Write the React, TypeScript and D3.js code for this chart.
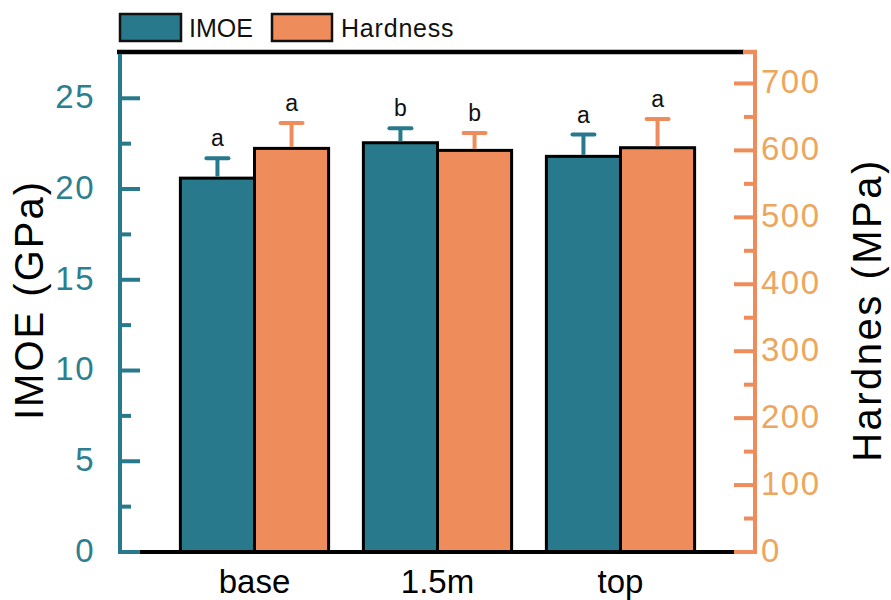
import React from "react";
import * as d3 from "d3";

// Sampling positions along the stem
const categories = ["base", "1.5m", "top"];

// Indentation modulus of elasticity (GPa) and its standard deviation
const imoeMean = [20.6, 22.55, 21.8];
const imoeErr = [1.1, 0.8, 1.2];
const imoeLetters = ["a", "b", "a"];

// Hardness (MPa) and its standard deviation
const hardMean = [603, 600, 604];
const hardErr = [38, 26, 43];
const hardLetters = ["a", "b", "a"];

const leftTicks = [0, 5, 10, 15, 20, 25];
const rightTicks = [0, 100, 200, 300, 400, 500, 600, 700];

const W = 891;
const H = 600;
const TEAL = "#27798B";
const ORANGE = "#EE8C5B";
const LEFT_LABEL = "#2B7F8F";
const RIGHT_LABEL = "#EDA65D";
const FONT = "'Liberation Sans', Arial, Helvetica, sans-serif";

export default function App() {
  const x0 = 120;
  const x1 = 755;
  const yTop = 52;
  const yBot = 552;

  const x = d3.scaleBand<string>().domain(categories).range([x0, x1]).paddingInner(0.19).paddingOuter(0.33);
  const sub = d3.scaleBand<string>().domain(["imoe", "hard"]).range([0, x.bandwidth()]);
  const yL = d3.scaleLinear().domain([0, 27.55]).range([yBot, yTop]);
  const yR = d3.scaleLinear().domain([0, 747]).range([yBot, yTop]);

  const leftMinor = d3.range(2.5, 27.5, 5);
  const rightMinor = d3.range(50, 747, 100);

  const series = [
    { key: "imoe", mean: imoeMean, err: imoeErr, letters: imoeLetters, y: yL, color: TEAL },
    { key: "hard", mean: hardMean, err: hardErr, letters: hardLetters, y: yR, color: ORANGE },
  ];

  return (
    <svg width={W} height={H} style={{ position: "absolute", left: 0, top: 0 }} fontFamily={FONT}>
      <rect width={W} height={H} fill="#fff" />

      {/* bars */}
      {series.map((s) =>
        categories.map((c, i) => {
          const bx = (x(c) as number) + (sub(s.key) as number);
          const by = s.y(s.mean[i]);
          return (
            <rect
              key={s.key + c}
              x={bx}
              y={by}
              width={sub.bandwidth()}
              height={yBot - by}
              fill={s.color}
              stroke="#000"
              strokeWidth={3}
            />
          );
        })
      )}

      {/* upper error bars and significance letters */}
      {series.map((s) =>
        categories.map((c, i) => {
          const cx = (x(c) as number) + (sub(s.key) as number) + sub.bandwidth() / 2;
          const by = s.y(s.mean[i]);
          const ey = s.y(s.mean[i] + s.err[i]);
          return (
            <g key={"e" + s.key + c}>
              <line x1={cx} x2={cx} y1={by - 1.5} y2={ey} stroke={s.color} strokeWidth={4} />
              <line x1={cx - 11} x2={cx + 11} y1={ey} y2={ey} stroke={s.color} strokeWidth={4} strokeLinecap="round" />
              <text x={cx} y={ey - 12} textAnchor="middle" fontSize={23} fill="#111">
                {s.letters[i]}
              </text>
            </g>
          );
        })
      )}

      {/* frame: top and bottom lines */}
      <line x1={x0 - 3} x2={x1 - 11} y1={yTop} y2={yTop} stroke="#000" strokeWidth={4.5} />
      <line x1={x1 - 12} x2={x1 + 2} y1={yTop} y2={yTop} stroke={ORANGE} strokeWidth={4.5} />
      <line x1={x0} x2={x1} y1={yBot} y2={yBot} stroke="#000" strokeWidth={4} />

      {/* left axis */}
      <line x1={x0} x2={x0} y1={yTop + 2} y2={yBot + 2} stroke={TEAL} strokeWidth={4} />
      {leftTicks.map((t) => (
        <g key={"lt" + t}>
          <line x1={x0} x2={x0 + 20} y1={yL(t)} y2={yL(t)} stroke={TEAL} strokeWidth={4} />
          <text x={95} y={yL(t)} dy="0.3em" textAnchor="end" fontSize={33} letterSpacing={1.5} fill={LEFT_LABEL}>
            {t}
          </text>
        </g>
      ))}
      {leftMinor.map((t) => (
        <line key={"lm" + t} x1={x0} x2={x0 + 11} y1={yL(t)} y2={yL(t)} stroke={TEAL} strokeWidth={4} />
      ))}

      {/* right axis */}
      <line x1={x1} x2={x1} y1={yTop} y2={yBot + 2} stroke={ORANGE} strokeWidth={4} />
      {rightTicks.map((t) => (
        <g key={"rt" + t}>
          <line x1={x1 - 21} x2={x1} y1={yR(t)} y2={yR(t)} stroke={ORANGE} strokeWidth={4} />
          <text x={761} y={yR(t)} dy="0.3em" textAnchor="start" fontSize={33} letterSpacing={1.5} fill={RIGHT_LABEL}>
            {t}
          </text>
        </g>
      ))}
      {rightMinor.map((t) => (
        <line key={"rm" + t} x1={x1 - 11} x2={x1} y1={yR(t)} y2={yR(t)} stroke={ORANGE} strokeWidth={4} />
      ))}

      {/* category labels */}
      {categories.map((c) => (
        <text key={"x" + c} x={(x(c) as number) + x.bandwidth() / 2} y={593} textAnchor="middle" fontSize={33} fill="#000">
          {c}
        </text>
      ))}

      {/* axis titles */}
      <text transform={`translate(43,300) rotate(-90)`} textAnchor="middle" fontSize={40} letterSpacing={2} fill="#000">
        IMOE (GPa)
      </text>
      <text transform={`translate(881,310) rotate(-90)`} textAnchor="middle" fontSize={40} letterSpacing={2.5} fill="#000">
        Hardnes (MPa)
      </text>

      {/* legend */}
      <rect x={120} y={14} width={61} height={27} fill={TEAL} stroke="#111" strokeWidth={2.5} />
      <text x={189} y={37} fontSize={25} fill="#111">IMOE</text>
      <rect x={272} y={14} width={60} height={27} fill={ORANGE} stroke="#111" strokeWidth={2.5} />
      <text x={341} y={37} fontSize={25} letterSpacing={0.8} fill="#111">Hardness</text>
    </svg>
  );
}
